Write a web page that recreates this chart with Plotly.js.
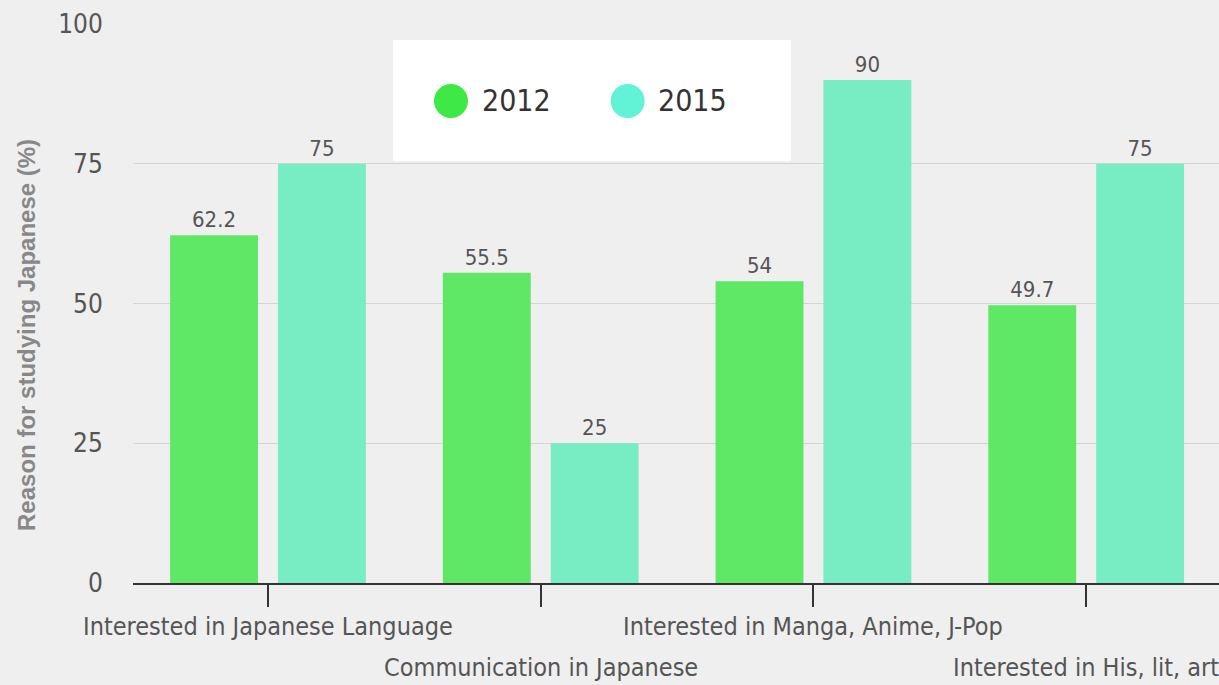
<!DOCTYPE html>
<html><head><meta charset="utf-8">
<script src="https://cdn.plot.ly/plotly-3.0.1.min.js"></script>
<style>html,body{margin:0;padding:0;background:#efefef;}#chart{width:1219px;height:685px;}</style>
</head><body><div id="chart"></div>
<script>
const categories = ['Interested in Japanese Language', 'Communication in Japanese', 'Interested in Manga, Anime, J-Pop', 'Interested in His, lit, art'];
const values2012 = [62.2, 55.5, 54, 49.7];
const values2015 = [75, 25, 90, 75];
const seriesNames = ['2012', '2015'];
const yTickValues = [0, 25, 50, 75, 100];
const yTitle = 'Reason for studying Japanese (%)';

const COND = "'Liberation Sans Narrow', 'DejaVu Sans Condensed', 'Roboto Condensed', 'Arial Narrow', sans-serif";
const colors = ['#5ee866', '#78edc3'];
const legendColors = ['#3ee845', '#62f2d6'];

const traces = [values2012, values2015].map((vals, k) => ({
  type: 'bar', name: seriesNames[k], x: categories, y: vals,
  marker: {color: colors[k]},
  text: vals.map(v => String(v)), textposition: 'outside', cliponaxis: false,
  textfont: {family: COND, size: 22, color: '#555'},
  showlegend: false, hoverinfo: 'skip'
}));

const annotations = [];
categories.forEach((c, i) => {
  annotations.push({
    xref: 'x', yref: 'paper', x: c, y: i % 2 === 0 ? -0.0787 : -0.152,
    xanchor: 'center', yanchor: 'middle', showarrow: false, text: c,
    font: {family: COND, size: 25, color: '#555'}
  });
});
annotations.push({
  xref: 'paper', yref: 'paper', x: -0.0976, y: 0.4437, textangle: -90,
  xanchor: 'center', yanchor: 'middle', showarrow: false, text: yTitle,
  font: {family: "'Liberation Sans', Arial, sans-serif", size: 24, weight: 'bold', color: '#888'}
});
const shapes = [{
  type: 'rect', xref: 'paper', yref: 'paper', x0: 0.2394, x1: 0.6059, y0: 0.7549, y1: 0.9714,
  fillcolor: '#ffffff', line: {width: 0}, layer: 'above'
}];
const legendX = [0.2928, 0.4555];
seriesNames.forEach((n, k) => {
  shapes.push({
    type: 'circle', xref: 'paper', yref: 'paper', xsizemode: 'pixel', ysizemode: 'pixel',
    xanchor: legendX[k], yanchor: 0.8623, x0: -17, x1: 17, y0: -17, y1: 17,
    fillcolor: legendColors[k], line: {width: 0}, layer: 'above'
  });
  annotations.push({
    xref: 'paper', yref: 'paper', x: legendX[k] + 0.0265, y: 0.8623,
    xanchor: 'left', yanchor: 'middle', showarrow: false, text: n,
    font: {family: COND, size: 30, color: '#333'}
  });
});

const layout = {
  width: 1219, height: 685,
  margin: {l: 133, r: 0, t: 24, b: 102},
  paper_bgcolor: '#efefef', plot_bgcolor: '#efefef',
  barmode: 'group', bargap: 0.209, bargroupgap: 0.185,
  xaxis: {
    type: 'category', range: [-0.495, 3.487], showgrid: false, zeroline: false,
    showline: true, linecolor: '#333', linewidth: 2,
    ticks: 'outside', ticklen: 22, tickwidth: 2, tickcolor: '#333',
    showticklabels: false, fixedrange: true
  },
  yaxis: {
    range: [0, 100], tickvals: yTickValues, showgrid: true, gridcolor: '#d4d4d4', gridwidth: 1,
    zeroline: false, showline: false, ticks: 'outside', ticklen: 24, tickcolor: 'rgba(0,0,0,0)',
    tickfont: {family: COND, size: 26, color: '#555'}, fixedrange: true
  },
  showlegend: false,
  annotations: annotations, shapes: shapes
};
Plotly.newPlot('chart', traces, layout, {displayModeBar: false, staticPlot: true});
</script></body></html>
